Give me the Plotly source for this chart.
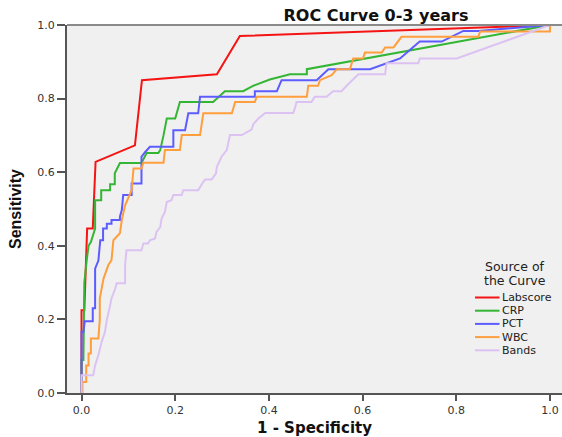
import plotly.graph_objects as go

# ---------------- data ----------------
series_names = ["Labscore", "CRP", "PCT", "WBC", "Bands"]
series_colors = ["#f51414", "#34b534", "#5c5cff", "#ff9e3d", "#dcc2f2"]

labscore_x = [0, 0, 0.006, 0.012, 0.024, 0.030, 0.114, 0.129, 0.289, 0.338, 1.0]
labscore_y = [0, 0.225, 0.225, 0.447, 0.447, 0.628, 0.673, 0.850, 0.866, 0.970, 1.0]

crp_x = [0, 0, 0.004, 0.006, 0.011, 0.015, 0.020, 0.025, 0.029, 0.029, 0.042, 0.042, 0.061, 0.061,
         0.071, 0.071, 0.082, 0.128, 0.139, 0.164, 0.168, 0.175, 0.182, 0.200, 0.210, 0.281, 0.306,
         0.345, 0.367, 0.402, 0.445, 0.481, 0.481, 1.0]
crp_y = [0, 0.09, 0.09, 0.30, 0.36, 0.40, 0.41, 0.43, 0.447, 0.524, 0.524, 0.551, 0.551, 0.567,
         0.567, 0.597, 0.625, 0.625, 0.652, 0.652, 0.660, 0.700, 0.746, 0.746, 0.791, 0.791, 0.820,
         0.820, 0.835, 0.852, 0.866, 0.866, 0.880, 1.0]

pct_x = [0, 0, 0.004, 0.007, 0.024, 0.024, 0.029, 0.029, 0.036, 0.040, 0.046, 0.046, 0.054, 0.054,
         0.064, 0.064, 0.082, 0.082, 0.086, 0.089, 0.107, 0.107, 0.128, 0.128, 0.136, 0.146, 0.196,
         0.196, 0.221, 0.228, 0.249, 0.253, 0.370, 0.370, 0.417, 0.427, 0.502, 0.527, 0.616, 0.651,
         0.680, 0.722, 0.769, 0.815, 0.847, 1.0]
pct_y = [0, 0.166, 0.166, 0.195, 0.195, 0.230, 0.230, 0.338, 0.360, 0.415, 0.415, 0.447, 0.447, 0.460,
         0.460, 0.470, 0.470, 0.479, 0.497, 0.538, 0.538, 0.569, 0.569, 0.642, 0.655, 0.669, 0.669,
         0.714, 0.714, 0.760, 0.760, 0.805, 0.805, 0.820, 0.820, 0.850, 0.850, 0.880, 0.880, 0.896,
         0.909, 0.955, 0.955, 0.984, 0.984, 1.0]

wbc_x = [0, 0.002, 0.002, 0.010, 0.010, 0.015, 0.015, 0.020, 0.020, 0.036, 0.039, 0.039, 0.047, 0.057,
         0.064, 0.068, 0.082, 0.086, 0.093, 0.100, 0.107, 0.111, 0.128, 0.132, 0.175, 0.178, 0.210,
         0.214, 0.253, 0.260, 0.321, 0.328, 0.370, 0.374, 0.481, 0.484, 0.505, 0.509, 0.534, 0.545,
         0.573, 0.580, 0.601, 0.605, 0.641, 0.648, 0.666, 0.683, 0.847, 0.851, 1.0, 1.0]
wbc_y = [0, 0, 0.030, 0.030, 0.075, 0.075, 0.107, 0.107, 0.148, 0.148, 0.200, 0.257, 0.311, 0.347,
         0.361, 0.415, 0.434, 0.470, 0.510, 0.533, 0.551, 0.610, 0.610, 0.626, 0.626, 0.660, 0.660,
         0.701, 0.701, 0.760, 0.760, 0.791, 0.791, 0.805, 0.805, 0.835, 0.835, 0.850, 0.864, 0.880,
         0.880, 0.909, 0.909, 0.925, 0.925, 0.939, 0.939, 0.968, 0.968, 0.982, 0.982, 1.0]

bands_x = [0, 0, 0.025, 0.029, 0.036, 0.043, 0.050, 0.054, 0.061, 0.064, 0.072, 0.075, 0.093, 0.093,
           0.096, 0.128, 0.132, 0.142, 0.146, 0.157, 0.160, 0.168, 0.171, 0.178, 0.182, 0.192, 0.196,
           0.214, 0.217, 0.249, 0.260, 0.264, 0.278, 0.287, 0.289, 0.296, 0.299, 0.310, 0.317, 0.342,
           0.363, 0.367, 0.377, 0.392, 0.452, 0.456, 0.459, 0.491, 0.498, 0.523, 0.537, 0.555, 0.566,
           0.591, 0.648, 0.651, 0.719, 0.722, 0.801, 1.0]
bands_y = [0, 0.048, 0.048, 0.075, 0.103, 0.139, 0.166, 0.198, 0.238, 0.257, 0.284, 0.298, 0.298, 0.347,
           0.388, 0.388, 0.406, 0.406, 0.415, 0.420, 0.438, 0.451, 0.474, 0.492, 0.519, 0.524, 0.538,
           0.538, 0.551, 0.551, 0.574, 0.580, 0.580, 0.597, 0.615, 0.637, 0.642, 0.660, 0.701, 0.701,
           0.716, 0.731, 0.745, 0.761, 0.761, 0.776, 0.791, 0.791, 0.805, 0.805, 0.820, 0.820, 0.835,
           0.866, 0.866, 0.896, 0.896, 0.909, 0.909, 1.0]

tick_vals = [0.0, 0.2, 0.4, 0.6, 0.8, 1.0]
tick_text = ["0.0", "0.2", "0.4", "0.6", "0.8", "1.0"]

title_text = "ROC Curve 0-3 years"
x_title = "1 - Specificity"
y_title = "Sensitivity"
legend_title_lines = ["Source of", "the Curve"]

# ---------------- figure ----------------
W, H = 562, 437
ML, MR, MT, MB = 67, 0, 25, 44
PW, PH = W - ML - MR, H - MT - MB

xs = [labscore_x, crp_x, pct_x, wbc_x, bands_x]
ys = [labscore_y, crp_y, pct_y, wbc_y, bands_y]

fig = go.Figure()
for name, color, x, y in zip(series_names, series_colors, xs, ys):
    fig.add_trace(go.Scatter(x=x, y=y, mode="lines", name=name,
                             line=dict(color=color, width=2), showlegend=False))


def px_x(p):
    return (p - ML) / PW


def px_y(p):
    return (H - MB - p) / PH


axis_col = "#555555"
font_main = "DejaVu Sans"

fig.update_layout(
    width=W, height=H,
    margin=dict(l=ML, r=MR, t=MT, b=MB, autoexpand=False),
    paper_bgcolor="white",
    plot_bgcolor="#f0f0f0",
    title=dict(text=title_text, x=376 / W, xref="container", xanchor="center",
               y=1 - 15 / H, yref="container", yanchor="middle",
               font=dict(family=font_main, size=16, color="#111111", weight="bold")),
    xaxis=dict(range=[-0.031, 1.0257], tickvals=tick_vals, ticktext=tick_text,
               showgrid=False, zeroline=False, showline=True, linecolor=axis_col, linewidth=2,
               ticks="outside", ticklen=6, tickwidth=2, tickcolor=axis_col,
               tickfont=dict(family=font_main, size=11, color="#333333"),
               title=dict(text=x_title, standoff=10,
                          font=dict(family=font_main, size=15, color="#111111", weight="bold"))),
    yaxis=dict(range=[0, 1], tickvals=tick_vals, ticktext=tick_text,
               showgrid=False, zeroline=False, showline=True, linecolor=axis_col, linewidth=2,
               ticks="outside", ticklen=8, tickwidth=2, tickcolor=axis_col,
               tickfont=dict(family=font_main, size=11, color="#333333"),
               title=dict(text=y_title, standoff=12,
                          font=dict(family="Liberation Sans", size=16, color="#111111", weight="bold"))),
)

# top frame line
fig.add_shape(type="line", xref="paper", yref="paper", x0=0, x1=1, y0=1, y1=1,
              line=dict(color="#8a8a8a", width=2))

# manual legend (compact, like the reference)
for i, line in enumerate(legend_title_lines):
    fig.add_annotation(text=line, xref="paper", yref="paper", x=px_x(515), y=px_y(266 + 14 * i),
                       xanchor="center", yanchor="middle", showarrow=False, borderpad=0,
                       font=dict(family=font_main, size=12.5, color="#222222"))
for i, (name, color) in enumerate(zip(series_names, series_colors)):
    yc = 297.5 + 13.2 * i
    fig.add_shape(type="line", xref="paper", yref="paper", x0=px_x(475), x1=px_x(499.5),
                  y0=px_y(yc), y1=px_y(yc), line=dict(color=color, width=2))
    fig.add_annotation(text=name, xref="paper", yref="paper", x=px_x(501), y=px_y(yc),
                       xanchor="left", yanchor="middle", showarrow=False, borderpad=0,
                       font=dict(family=font_main, size=11, color="#222222"))

fig.write_html("out.html")
